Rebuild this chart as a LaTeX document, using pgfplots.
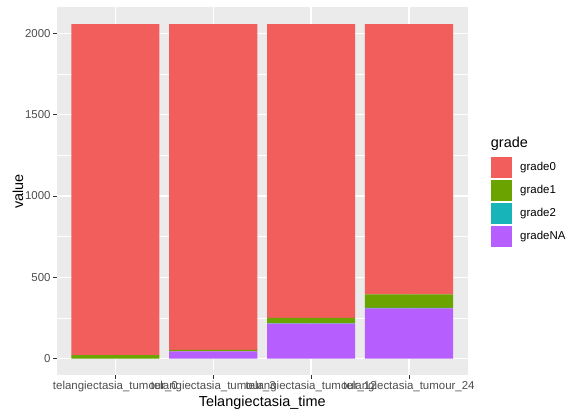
\documentclass[border=0pt]{standalone}
\usepackage{fontspec}
\setmainfont{Liberation Sans}
\usepackage{pgfplots}
\pgfplotsset{compat=1.18}

\definecolor{gzero}{RGB}{242,94,91}
\definecolor{gone}{RGB}{107,163,0}
\definecolor{gtwo}{RGB}{23,180,186}
\definecolor{gna}{RGB}{183,94,255}
\definecolor{panelgrey}{RGB}{235,235,235}
\definecolor{labgrey}{RGB}{77,77,77}
\definecolor{tickgrey}{RGB}{51,51,51}

\begin{document}
\begin{tikzpicture}
\begin{axis}[
  scale only axis, width=411bp, height=368bp,
  ybar stacked, bar width=0.9,
  xmin=0.4, xmax=4.6, ymin=-102.85, ymax=2159.85,
  xtick={1,2,3,4},
  xticklabels={telangiectasia\_tumour\_0,telangiectasia\_tumour\_3,telangiectasia\_tumour\_12,telangiectasia\_tumour\_24},
  ytick={0,500,1000,1500,2000}, minor ytick={250,750,1250,1750},
  axis line style={draw=none},
  axis background/.style={fill=panelgrey},
  xmajorgrids, ymajorgrids, yminorgrids,
  major grid style={white, line width=1.4bp},
  minor grid style={white, line width=0.7bp},
  tick align=outside, tick pos=left,
  major tick length=3.5bp, minor tick length=0pt,
  tick style={color=tickgrey, line width=0.7bp},
  ticklabel style={font=\fontsize{11.5}{13}\selectfont, color=labgrey},
  xticklabel style={inner sep=0pt, yshift=-2.5bp},
  yticklabel style={inner sep=0pt, xshift=-2.5bp},
  /pgf/number format/assume math mode=true,
  /pgf/number format/1000 sep={},
  xlabel={Telangiectasia\_time}, ylabel={value},
  label style={font=\fontsize{14.5}{16}\selectfont},
  xlabel style={at={(axis description cs:0.5,-0.0753)}, anchor=center},
  ylabel style={at={(axis description cs:-0.094,0.5)}, anchor=center, rotate=0},
  clip=false,
  reverse legend,
  legend image code/.code={\fill[#1] (0bp,-10.75bp) rectangle (21.5bp,10.75bp);},
  legend style={draw=none, fill=none, inner sep=0pt, outer sep=0pt,
    at={(axis description cs:1.056,0.594)}, anchor=north west,
    row sep=1.5bp, column sep=8bp,
    font=\fontsize{11.5}{13}\selectfont,
    nodes={inner sep=0pt, anchor=west}},
  legend cell align=left,
]
\addplot[fill=gna, draw=none] coordinates {(1,0) (2,45) (3,215) (4,309)};
\addplot[fill=gtwo, draw=none] coordinates {(1,0) (2,0) (3,2) (4,2)};
\addplot[fill=gone, draw=none] coordinates {(1,21) (2,8) (3,33) (4,84)};
\addplot[fill=gzero, draw=none] coordinates {(1,2036) (2,2004) (3,1807) (4,1662)};
\legend{gradeNA,grade2,grade1,grade0}
\node[anchor=base west, inner sep=0pt, font=\fontsize{14.5}{16}\selectfont]
  at (rel axis cs:1.056,0.6196) {grade};
\coordinate (tl) at (rel axis cs:0,1);
\coordinate (br) at (rel axis cs:1,0);
\end{axis}
\pgfresetboundingbox
\path ([shift={(-56.7bp,7.3bp)}]tl) rectangle ([shift={(113.3bp,-42.7bp)}]br);
\end{tikzpicture}
\end{document}
